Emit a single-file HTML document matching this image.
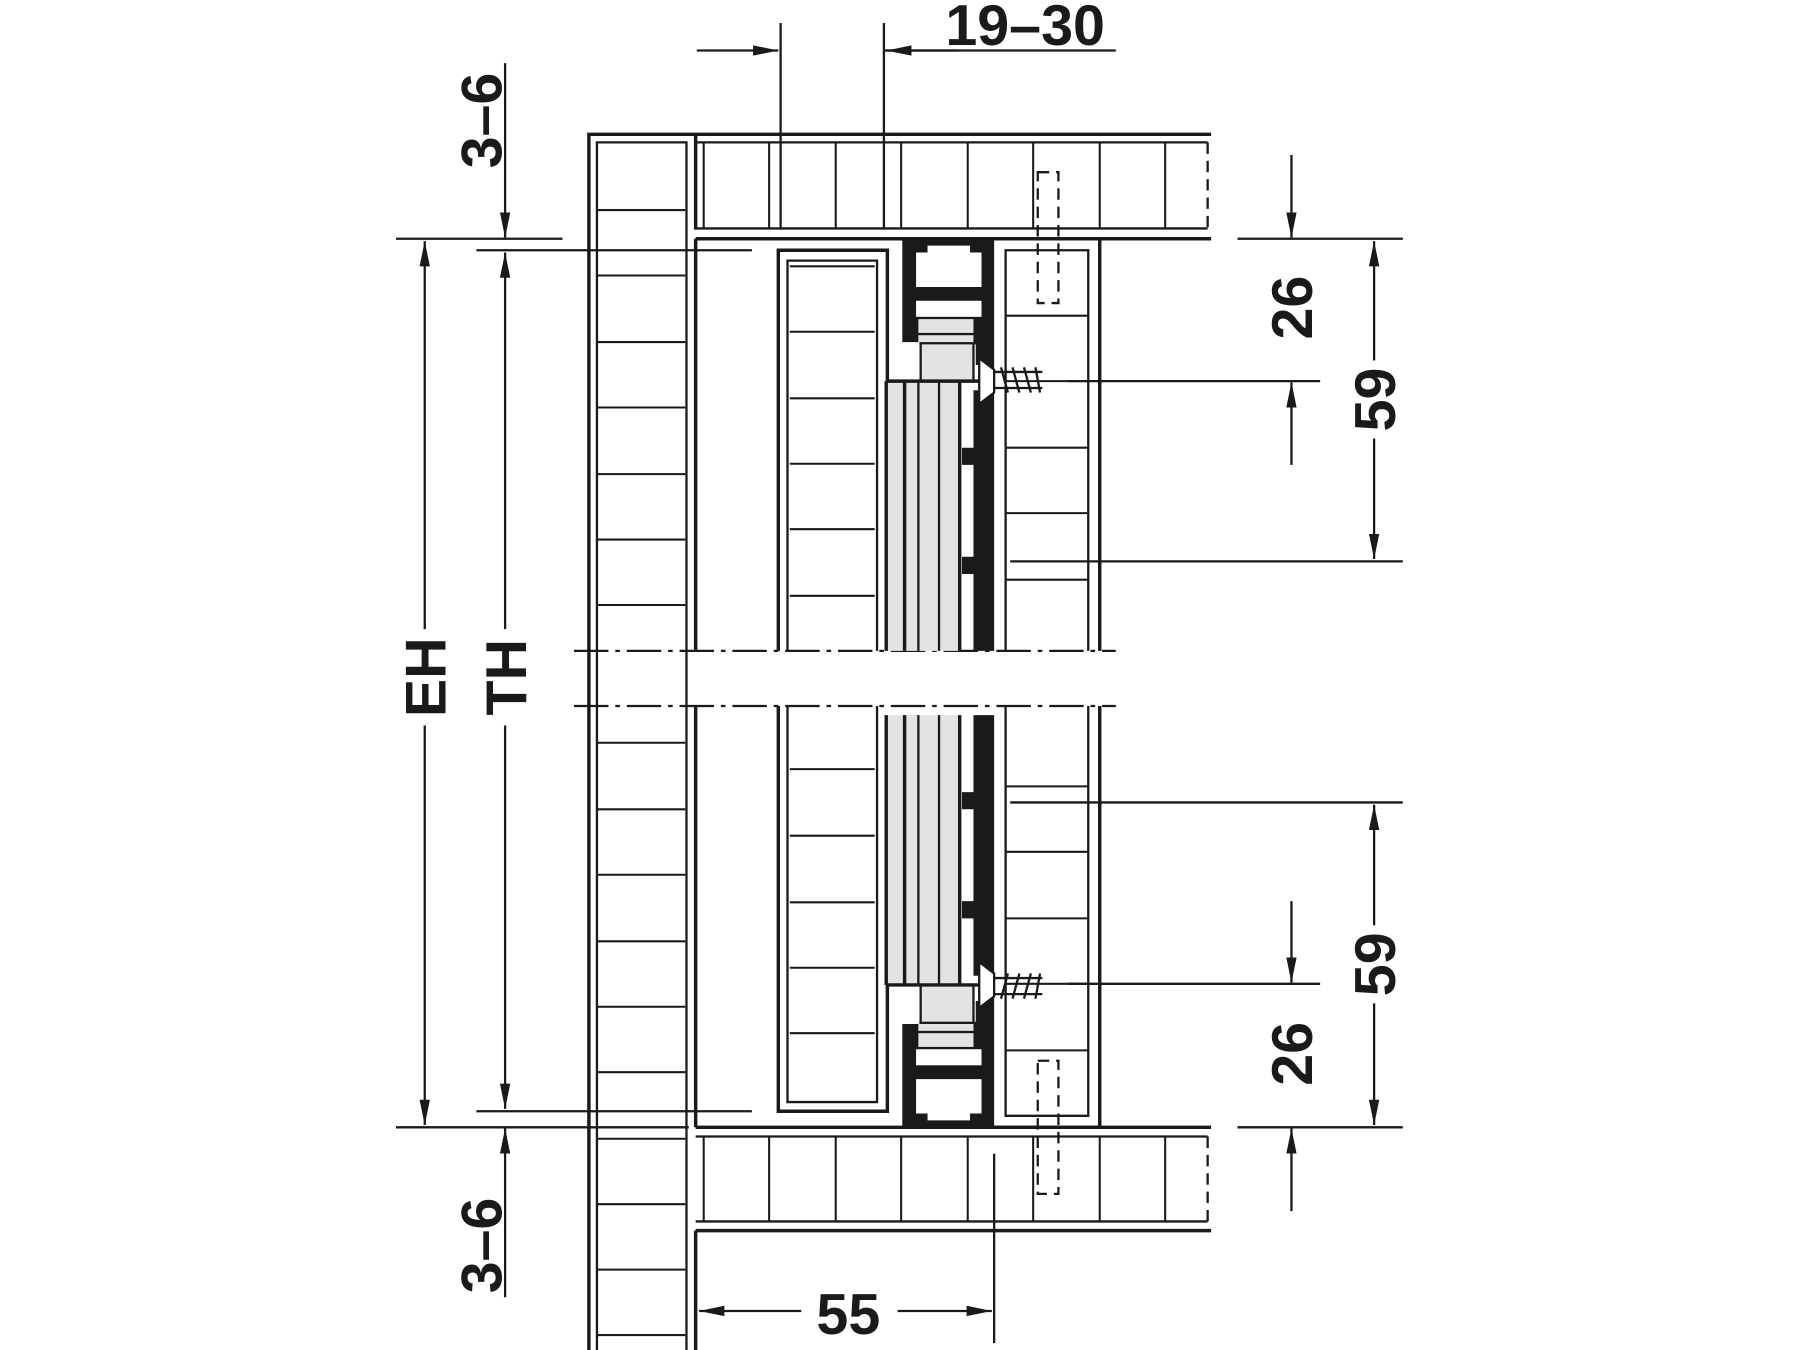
<!DOCTYPE html>
<html><head><meta charset="utf-8"><style>html,body{margin:0;padding:0;background:#fff}svg{display:block}</style></head>
<body>
<svg width="1800" height="1350" viewBox="0 0 1568 1176" xmlns="http://www.w3.org/2000/svg">
<defs>
<marker id="a" viewBox="0 0 22 10" refX="22" refY="5" markerWidth="22" markerHeight="10" markerUnits="userSpaceOnUse" orient="auto-start-reverse"><path d="M0,0.5 L22,5 L0,9.5 Z" fill="#1a1a1a"/></marker>
<g id="runner">
  <path d="M786,208 H866 V567 H848 V500 H838 V485 H848 V405 H838 V390 H848 V340 H855 V318 H850 V300 H800 V298 H786 Z" fill="#1a1a1a"/>
  <path d="M798,220 L808,220 L808,214 L845,214 L845,220 L855,220 L855,250 L798,250 Z" fill="#fff"/>
  <rect x="798" y="262" width="57" height="14" fill="#fff"/>
  <rect x="800" y="278" width="48" height="12" fill="#e2e3e4"/>
  <rect x="800" y="292" width="48" height="8" fill="#e2e3e4"/>
  <rect x="802" y="299" width="46" height="33" fill="#e2e3e4" stroke="#1a1a1a" stroke-width="2"/>
  <rect x="772" y="332" width="64" height="235" fill="#e2e3e4"/>
  <line x1="772" y1="332" x2="860" y2="332" stroke="#1a1a1a" stroke-width="3"/>
  <line x1="772" y1="332" x2="772" y2="567" stroke="#1a1a1a" stroke-width="3"/>
  <line x1="788" y1="332" x2="788" y2="567" stroke="#1a1a1a" stroke-width="3"/>
  <line x1="800" y1="332" x2="800" y2="567" stroke="#1a1a1a" stroke-width="2"/>
  <line x1="818" y1="332" x2="818" y2="567" stroke="#1a1a1a" stroke-width="2"/>
  <line x1="836" y1="332" x2="836" y2="567" stroke="#1a1a1a" stroke-width="3"/>
  <path d="M853,312 L866,322 L866,342 L853,352 Z" fill="#fff" stroke="#1a1a1a" stroke-width="2"/>
  <path d="M866,324 H908 M866,338 H908 M872,320 L878,342 M882,320 L888,342 M892,320 L898,342 M902,320 L906,342" stroke="#1a1a1a" stroke-width="2" fill="none"/>
</g>
</defs>
<g fill="none" stroke="#1a1a1a">
<path d="M513,1176 V117 H606 V200" stroke-width="3"/>
<path d="M520,1176 V124 H598 V1176" stroke-width="2"/>
<path d="M606,1176 V1072 M606,208 V567 M606,615 V982" stroke-width="3"/>
<path d="M520,183 H597 M520,240 H597 M520,298 H597 M520,355 H597 M520,413 H597 M520,470 H597 M520,527 H597 M520,647 H597 M520,705 H597 M520,762 H597 M520,820 H597 M520,877 H597 M520,934 H597 M520,992 H597 M520,1049 H597 M520,1106 H597 M520,1163 H597" stroke-width="1.8"/>
<path d="M606,117 H1055 M606,208 H1055" stroke-width="3"/>
<path d="M606,124 H1052 M606,199 H1052" stroke-width="2"/>
<path d="M613,124 V199 M670,124 V199 M728,124 V199 M785,124 V199 M843,124 V199 M958,124 V199 M1015,124 V199" stroke-width="1.8"/>
<path d="M1052,124 V199" stroke-width="2" stroke-dasharray="10,6"/>
<path d="M900,124 V199" stroke-width="1.8"/>
<rect x="904" y="150" width="18" height="114" stroke-width="2" stroke-dasharray="10,6"/>
<rect x="904" y="924" width="18" height="116" stroke-width="2" stroke-dasharray="10,6"/>
<path d="M606,982 H1055 M606,1072 H1055" stroke-width="3"/>
<path d="M606,990 H1052 M606,1064 H1052" stroke-width="2"/>
<path d="M613,990 V1064 M670,990 V1064 M728,990 V1064 M785,990 V1064 M843,990 V1064 M900,990 V1064 M958,990 V1064 M1015,990 V1064" stroke-width="1.8"/>
<path d="M1052,990 V1064" stroke-width="2" stroke-dasharray="10,6"/>
<path d="M678,567 V218 H773 V332 M678,615 V968 H773 V858" stroke-width="3"/>
<path d="M686,567 V227 H764 V567 M686,615 V960 H764 V615" stroke-width="2"/>
<path d="M688,232 H762 M688,289 H762 M688,347 H762 M688,404 H762 M688,461 H762 M688,519 H762 M688,670 H762 M688,728 H762 M688,786 H762 M688,843 H762 M688,900 H762" stroke-width="1.8"/>
<path d="M866,208 H958 V567 M866,982 H958 V615" stroke-width="3"/>
<path d="M876,567 V218 H948 V567 M876,615 V972 H948 V615" stroke-width="2"/>
<path d="M876,275 H948 M876,332 H948 M876,390 H948 M876,447 H948 M876,505 H948 M876,685 H948 M876,742 H948 M876,800 H948 M876,857 H948 M876,915 H948" stroke-width="1.8"/>
<path d="M500,567 H972 M500,615 H972" stroke-width="2" stroke-dasharray="30,6,4,6"/>
</g>
<use href="#runner"/>
<use href="#runner" transform="translate(0,1190) scale(1,-1)"/>
<g stroke="#1a1a1a" stroke-width="2" fill="none">
<path d="M680,20 V200 M770,20 V200 M770,44 H972"/>
<line x1="607" y1="44" x2="678" y2="44" marker-end="url(#a)"/>
<line x1="835" y1="44" x2="772" y2="44" marker-end="url(#a)"/>
<line x1="440" y1="55" x2="440" y2="207" marker-end="url(#a)"/>
<path d="M345,208 H490 M415,218 H655 M415,968 H655 M345,982 H600"/>
<line x1="370" y1="210" x2="370" y2="980" marker-start="url(#a)" marker-end="url(#a)"/>
<line x1="440" y1="220" x2="440" y2="966" marker-start="url(#a)" marker-end="url(#a)"/>
<line x1="440" y1="1130" x2="440" y2="983" marker-end="url(#a)"/>
<path d="M866,1005 V1170"/>
<line x1="609" y1="1142" x2="864" y2="1142" marker-start="url(#a)" marker-end="url(#a)"/>
<path d="M1078,208 H1222 M930,332 H1150 M880,489 H1222 M880,699 H1222 M930,857 H1150 M1078,982 H1222"/>
<line x1="1125" y1="135" x2="1125" y2="207" marker-end="url(#a)"/>
<line x1="1125" y1="405" x2="1125" y2="333" marker-end="url(#a)"/>
<line x1="1197" y1="210" x2="1197" y2="487" marker-start="url(#a)" marker-end="url(#a)"/>
<line x1="1197" y1="701" x2="1197" y2="980" marker-start="url(#a)" marker-end="url(#a)"/>
<line x1="1125" y1="785" x2="1125" y2="856" marker-end="url(#a)"/>
<line x1="1125" y1="1055" x2="1125" y2="983" marker-end="url(#a)"/>
</g>
<g font-family="Liberation Sans, sans-serif" font-weight="bold" font-size="50" fill="#1a1a1a" text-anchor="middle">
<rect x="815" y="0" width="160" height="40" fill="#fff"/>
<text x="893" y="39">19–30</text>
<rect x="698" y="1120" width="84" height="46" fill="#fff"/>
<text x="739" y="1162">55</text>
<g transform="translate(437,105) rotate(-90)"><rect x="-44" y="-44" width="88" height="46" fill="#fff"/><text x="0" y="0">3–6</text></g>
<g transform="translate(437,1085) rotate(-90)"><rect x="-44" y="-44" width="88" height="46" fill="#fff"/><text x="0" y="0">3–6</text></g>
<g transform="translate(388,590) rotate(-90)"><rect x="-42" y="-44" width="84" height="46" fill="#fff"/><text x="0" y="0">EH</text></g>
<g transform="translate(458,590) rotate(-90)"><rect x="-42" y="-44" width="84" height="46" fill="#fff"/><text x="0" y="0">TH</text></g>
<g transform="translate(1143,268) rotate(-90)"><text x="0" y="0">26</text></g>
<g transform="translate(1143,918) rotate(-90)"><text x="0" y="0">26</text></g>
<g transform="translate(1215,348) rotate(-90)"><rect x="-34" y="-44" width="68" height="46" fill="#fff"/><text x="0" y="0">59</text></g>
<g transform="translate(1215,840) rotate(-90)"><rect x="-34" y="-44" width="68" height="46" fill="#fff"/><text x="0" y="0">59</text></g>
</g>
</svg>
</body></html>
